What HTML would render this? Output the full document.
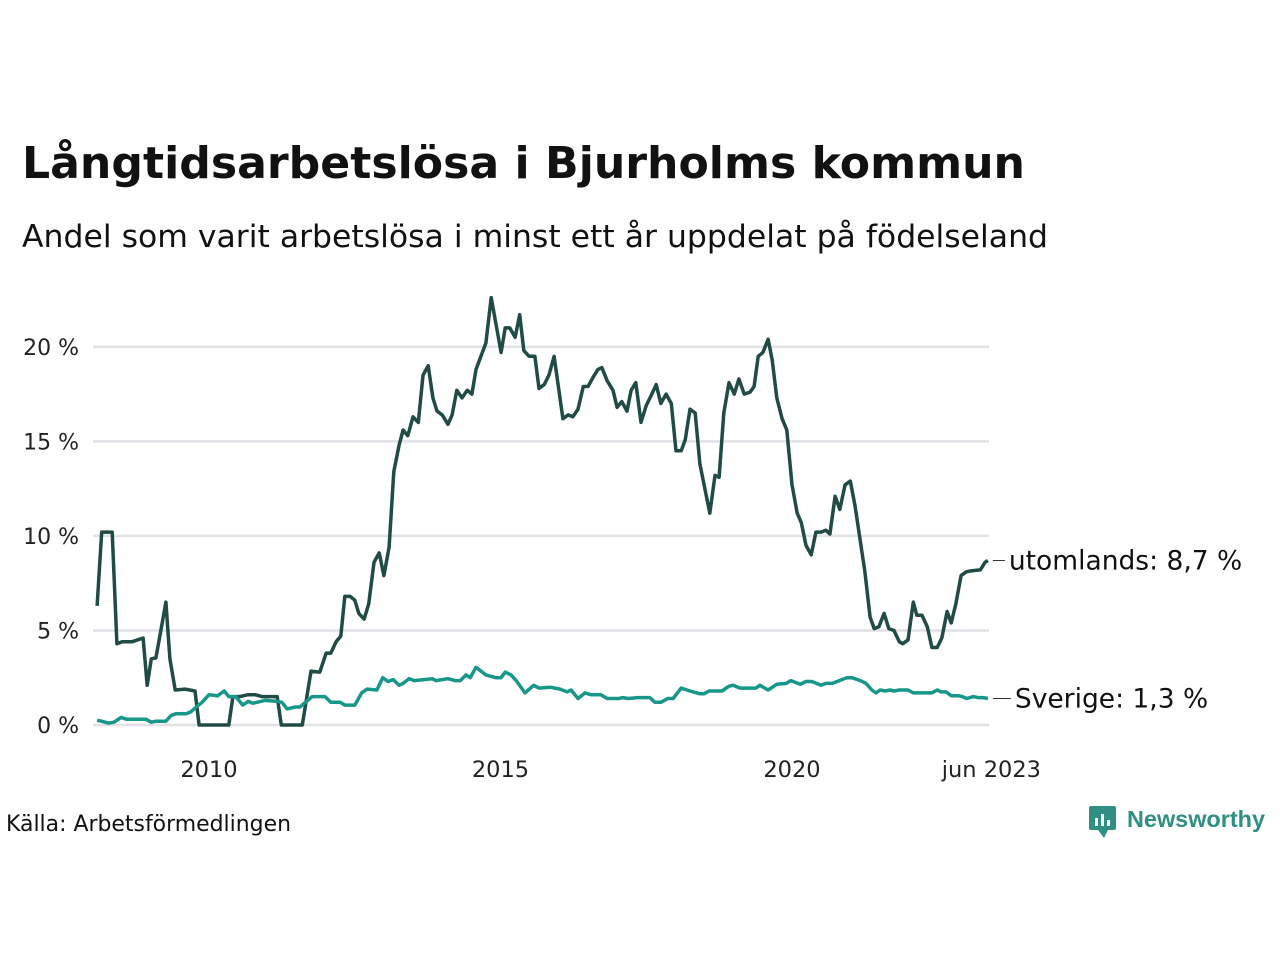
<!DOCTYPE html>
<html><head><meta charset="utf-8"><style>
body{margin:0;background:#fff;font-family:"Liberation Sans","DejaVu Sans",sans-serif;}
#wrap{position:relative;width:1280px;height:960px;overflow:hidden;}
</style></head><body>
<div id="wrap">
<svg id="chart" width="1280" height="960" style="position:absolute;left:0;top:0">
<text x="22" y="178" font-size="44" font-weight="bold" fill="#111" font-family="DejaVu Sans, sans-serif" textLength="1003" lengthAdjust="spacingAndGlyphs">Långtidsarbetslösa i Bjurholms kommun</text>
<text x="22" y="247" font-size="31.5" fill="#111" font-family="DejaVu Sans, sans-serif" textLength="1026" lengthAdjust="spacingAndGlyphs">Andel som varit arbetslösa i minst ett år uppdelat på födelseland</text>
<text x="6" y="831" font-size="22" fill="#111" font-family="DejaVu Sans, sans-serif" textLength="285" lengthAdjust="spacingAndGlyphs">Källa: Arbetsförmedlingen</text>
<g>
<rect x="1089" y="806" width="27" height="24" rx="2" fill="#2f8f83"/>
<polygon points="1098,830 1104,838 1108,830" fill="#2f8f83"/>
<rect x="1095" y="818" width="3" height="8" fill="#fff"/><rect x="1101" y="814" width="3" height="12" fill="#fff"/><rect x="1107" y="820" width="3" height="6" fill="#fff"/>
<text x="1127" y="827" font-size="23" font-weight="bold" fill="#2f8f83" font-family="Liberation Sans, sans-serif" textLength="138" lengthAdjust="spacingAndGlyphs">Newsworthy</text>
</g>
<g id="grid"></g><g id="yticks"></g><g id="xticks"></g><g id="lines"></g><g id="labels"></g>
</svg>
</div>
<script>
const utDates=[2008.08,2008.16,2008.34,2008.42,2008.51,2008.68,2008.87,2008.94,2009.01,2009.09,2009.18,2009.26,2009.33,2009.42,2009.59,2009.76,2009.83,2010.34,2010.41,2010.53,2010.67,2010.79,2010.91,2011.17,2011.24,2011.60,2011.75,2011.90,2012.01,2012.09,2012.18,2012.26,2012.33,2012.42,2012.50,2012.57,2012.66,2012.74,2012.83,2012.92,2013.00,2013.09,2013.17,2013.26,2013.33,2013.41,2013.50,2013.59,2013.67,2013.76,2013.84,2013.91,2014.00,2014.10,2014.17,2014.25,2014.34,2014.43,2014.51,2014.58,2014.75,2014.84,2015.01,2015.08,2015.16,2015.25,2015.33,2015.40,2015.49,2015.59,2015.66,2015.75,2015.83,2015.92,2016.07,2016.16,2016.24,2016.33,2016.42,2016.50,2016.59,2016.67,2016.74,2016.83,2016.93,2017.00,2017.08,2017.17,2017.24,2017.32,2017.41,2017.50,2017.58,2017.67,2017.75,2017.84,2017.93,2018.01,2018.10,2018.17,2018.25,2018.34,2018.42,2018.59,2018.68,2018.75,2018.83,2018.92,2019.01,2019.09,2019.18,2019.28,2019.35,2019.42,2019.50,2019.59,2019.66,2019.74,2019.83,2019.91,2020.00,2020.09,2020.16,2020.24,2020.33,2020.41,2020.50,2020.58,2020.65,2020.74,2020.82,2020.91,2021.00,2021.08,2021.25,2021.34,2021.41,2021.49,2021.58,2021.66,2021.75,2021.84,2021.90,2021.99,2022.08,2022.14,2022.23,2022.32,2022.40,2022.49,2022.57,2022.66,2022.73,2022.81,2022.90,2022.99,2023.07,2023.23,2023.31,2023.36];
const utValues=[6.3,10.2,10.2,4.3,4.4,4.4,4.6,2.1,3.5,3.55,5.1,6.5,3.5,1.85,1.9,1.8,0,0,1.5,1.5,1.6,1.6,1.5,1.5,0,0,2.85,2.8,3.8,3.8,4.4,4.7,6.8,6.8,6.6,5.9,5.6,6.4,8.6,9.1,7.9,9.4,13.4,14.8,15.6,15.3,16.3,16.0,18.5,19.0,17.3,16.6,16.4,15.9,16.4,17.7,17.3,17.7,17.5,18.8,20.2,22.6,19.7,21.0,21.0,20.5,21.7,19.8,19.5,19.5,17.8,18.0,18.5,19.5,16.2,16.4,16.3,16.7,17.9,17.9,18.4,18.8,18.9,18.2,17.7,16.8,17.1,16.6,17.7,18.1,16.0,16.9,17.4,18.0,17.0,17.5,17.0,14.5,14.5,15.1,16.7,16.5,13.8,11.2,13.2,13.1,16.5,18.1,17.5,18.3,17.5,17.6,17.9,19.5,19.7,20.4,19.3,17.3,16.2,15.6,12.7,11.2,10.7,9.5,9.0,10.2,10.2,10.3,10.1,12.1,11.4,12.7,12.9,11.6,8.1,5.7,5.1,5.2,5.9,5.1,5.0,4.4,4.3,4.5,6.5,5.8,5.8,5.2,4.1,4.1,4.6,6.0,5.4,6.4,7.9,8.1,8.15,8.2,8.6,8.7];
const svDates=[2008.08,2008.16,2008.27,2008.37,2008.49,2008.59,2008.92,2009.01,2009.09,2009.26,2009.35,2009.43,2009.61,2009.69,2009.78,2009.88,2010.00,2010.15,2010.26,2010.34,2010.46,2010.58,2010.67,2010.75,2010.96,2011.17,2011.25,2011.34,2011.48,2011.56,2011.77,2011.99,2012.09,2012.25,2012.33,2012.50,2012.62,2012.71,2012.88,2012.98,2013.07,2013.16,2013.26,2013.33,2013.43,2013.52,2013.69,2013.83,2013.89,2014.10,2014.22,2014.31,2014.41,2014.48,2014.58,2014.75,2014.92,2015.01,2015.08,2015.18,2015.27,2015.42,2015.57,2015.66,2015.85,2016.02,2016.14,2016.21,2016.33,2016.45,2016.55,2016.72,2016.83,2017.03,2017.10,2017.19,2017.36,2017.56,2017.65,2017.75,2017.87,2017.96,2018.10,2018.25,2018.42,2018.49,2018.58,2018.80,2018.92,2018.99,2019.11,2019.21,2019.38,2019.45,2019.59,2019.74,2019.90,2019.98,2020.14,2020.24,2020.34,2020.50,2020.58,2020.69,2020.94,2021.03,2021.17,2021.27,2021.37,2021.44,2021.51,2021.60,2021.68,2021.75,2021.84,2021.99,2022.08,2022.40,2022.49,2022.56,2022.64,2022.73,2022.85,2022.92,2023.00,2023.11,2023.19,2023.28,2023.36];
const svValues=[0.25,0.2,0.1,0.15,0.4,0.3,0.3,0.15,0.2,0.2,0.5,0.6,0.6,0.7,0.95,1.2,1.6,1.55,1.8,1.5,1.5,1.05,1.25,1.15,1.3,1.25,1.2,0.85,0.95,0.95,1.5,1.5,1.2,1.2,1.05,1.05,1.7,1.9,1.85,2.5,2.3,2.4,2.1,2.2,2.45,2.35,2.4,2.45,2.35,2.45,2.35,2.35,2.65,2.5,3.05,2.65,2.5,2.5,2.8,2.65,2.35,1.7,2.1,1.95,2.0,1.9,1.75,1.85,1.4,1.7,1.6,1.6,1.4,1.4,1.45,1.4,1.45,1.45,1.2,1.2,1.4,1.4,1.95,1.8,1.65,1.65,1.8,1.8,2.05,2.1,1.95,1.95,1.95,2.1,1.85,2.15,2.2,2.35,2.15,2.3,2.3,2.1,2.2,2.2,2.5,2.5,2.35,2.2,1.85,1.7,1.85,1.8,1.85,1.8,1.85,1.85,1.7,1.7,1.85,1.75,1.75,1.55,1.55,1.5,1.4,1.5,1.45,1.45,1.4];
const yTicks=[0,5,10,15,20];
const yTickLabels=["0 %","5 %","10 %","15 %","20 %"];
const xTicks=[2010,2015,2020,2023.42];
const xTickLabels=["2010","2015","2020","jun 2023"];
const seriesNames=["utomlands","Sverige"];
const seriesLabels=["utomlands: 8,7 %","Sverige: 1,3 %"];

const NS="http://www.w3.org/2000/svg";
const xS=v=>209+(v-2010)*58.3;
const yS=v=>725-v*18.91;
function mk(tag,attrs,parent){const e=document.createElementNS(NS,tag);for(const k in attrs)e.setAttribute(k,attrs[k]);parent.appendChild(e);return e;}
const grid=document.getElementById('grid'),yt=document.getElementById('yticks'),xt=document.getElementById('xticks'),lines=document.getElementById('lines'),labs=document.getElementById('labels');
yTicks.forEach((t,i)=>{
  const l=mk('line',{x1:93,x2:989,y1:yS(t),y2:yS(t),stroke:'#e1e1e6','stroke-width':2.5},grid);
  
  
  const tx=mk('text',{x:79,y:yS(t)+8,'text-anchor':'end','font-size':22,fill:'#222','font-family':'DejaVu Sans, sans-serif'},yt);
  tx.textContent=yTickLabels[i];
  
  
});
xTicks.forEach((t,i)=>{
  const tx=mk('text',{x:xS(t),y:777,'text-anchor':'middle','font-size':22.5,fill:'#222','font-family':'DejaVu Sans, sans-serif'},xt);
  tx.textContent=xTickLabels[i];
  
  
});
function drawLine(dates,vals,color,name,label,dx){
  const d=dates.map((t,i)=>(i?'L':'M')+xS(t).toFixed(1)+','+yS(vals[i]).toFixed(1)).join('');
  const p=mk('path',{d:d,fill:'none',stroke:color,'stroke-width':3.5,'stroke-linejoin':'round'},lines);
  
  
  const lx=xS(dates[dates.length-1]),ly=yS(vals[vals.length-1]);
  const ld=mk('line',{x1:lx+5,x2:lx+5+dx,y1:ly,y2:ly,stroke:'#333','stroke-width':1},labs);
  
  
  const tx=mk('text',{x:lx+9+dx,y:ly+9,'font-size':26.5,fill:'#111','font-family':'DejaVu Sans, sans-serif'},labs);
  tx.textContent=label;
  
  
}
drawLine(utDates,utValues,'#214b45',seriesNames[0],seriesLabels[0],12);
drawLine(svDates,svValues,'#17978a',seriesNames[1],seriesLabels[1],18);
</script>
</body></html>
